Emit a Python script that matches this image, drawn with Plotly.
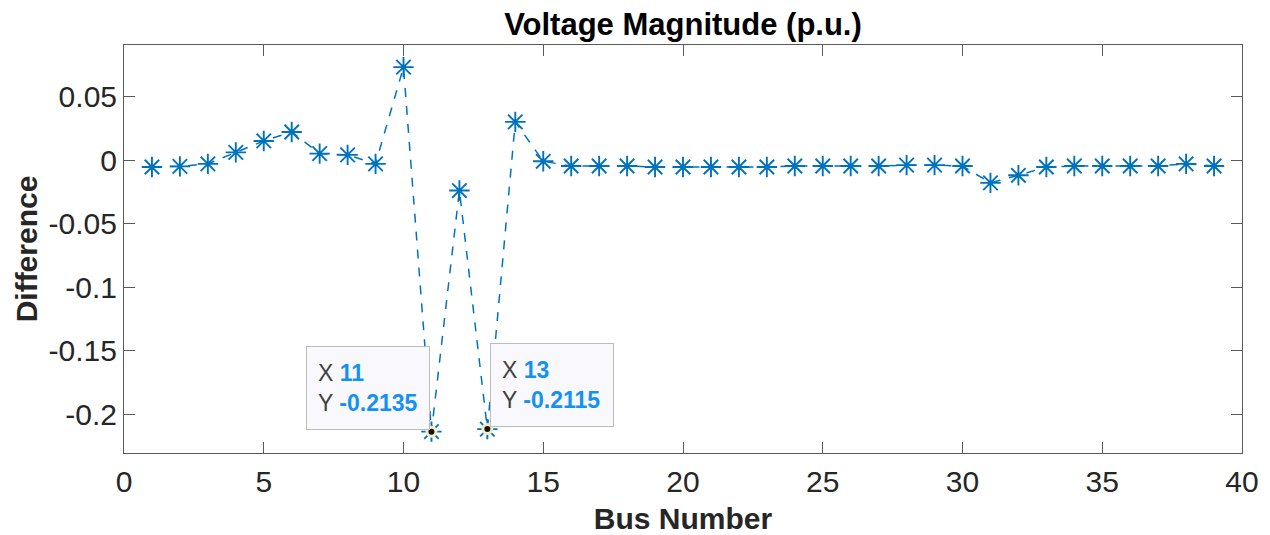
import plotly.graph_objects as go

bus = list(range(1, 40))
diff = [-0.0055, -0.005, -0.003, 0.006, 0.015, 0.022, 0.005, 0.004, -0.003, 0.073,
        -0.2135, -0.024, -0.2115, 0.030, -0.001, -0.0047, -0.0047, -0.0047, -0.0055, -0.0055,
        -0.0055, -0.0055, -0.0055, -0.0047, -0.0047, -0.0047, -0.0047, -0.004, -0.004, -0.0047,
        -0.018, -0.012, -0.0055, -0.0047, -0.0047, -0.0047, -0.0047, -0.003, -0.0047]

tip_x = [11, 13]
tip_y = [-0.2135, -0.2115]
tip_side = ["right", "left"]

ytick_vals = [0.05, 0, -0.05, -0.1, -0.15, -0.2]
ytick_text = ["0.05", "0", "-0.05", "-0.1", "-0.15", "-0.2"]
xtick_vals = [0, 5, 10, 15, 20, 25, 30, 35, 40]

blue = "#0072BD"
axcol = "#5a5a5a"
font = "Liberation Sans, Arial, sans-serif"

fig = go.Figure()
fig.add_trace(go.Scatter(
    x=bus, y=diff, mode="lines+markers",
    line=dict(color=blue, width=1.5, dash="dash"),
    marker=dict(symbol="asterisk", size=17, color=blue, line=dict(color=blue, width=1.9)),
    showlegend=False, hoverinfo="skip"))
fig.add_trace(go.Scatter(
    x=tip_x, y=tip_y, mode="markers",
    marker=dict(symbol="circle", size=9, color="#111111", line=dict(color="#F3EDC6", width=3)),
    showlegend=False, hoverinfo="skip"))

for xv, yv, side in zip(tip_x, tip_y, tip_side):
    txt = (f"X <span style='color:#1592F0'><b>{xv}</b></span><br>"
           f"Y <span style='color:#1592F0'><b>{yv}</b></span>")
    fig.add_annotation(
        x=xv, y=yv, xref="x", yref="y", text=txt, showarrow=False,
        xanchor="right" if side == "right" else "left", yanchor="bottom",
        xshift=-1 if side == "right" else 3, yshift=2,
        align="left", valign="middle", width=100, height=60, borderpad=11,
        bgcolor="#F8F8FD", bordercolor="#BDBDBD", borderwidth=1,
        font=dict(family=font, size=23, color="#404040"))

fig.update_layout(
    width=1270, height=535,
    margin=dict(l=124, r=28, t=45, b=82),
    paper_bgcolor="white", plot_bgcolor="white",
    title=dict(text="<b>Voltage Magnitude (p.u.)</b>", xref="paper", x=0.5, xanchor="center",
               y=1 - 24 / 535, yanchor="middle", automargin=False,
               font=dict(family=font, size=31, color="#000000")),
    font=dict(family=font, color="#262626"),
)
fig.update_xaxes(
    range=[0, 40], tickvals=xtick_vals, ticks="inside", ticklen=11, tickcolor=axcol,
    showline=True, linecolor=axcol, linewidth=1, mirror="ticks", showgrid=False, zeroline=False,
    automargin=False,
    tickfont=dict(family=font, size=30, color="#262626"), ticklabelstandoff=2,
    title=dict(text="<b>Bus Number</b>", font=dict(family=font, size=30, color="#262626"), standoff=10),
)
fig.update_yaxes(
    range=[-0.2303, 0.0904], tickvals=ytick_vals, ticktext=ytick_text, ticks="inside", ticklen=11,
    tickcolor=axcol, showline=True, linecolor=axcol, linewidth=1, mirror="ticks",
    showgrid=False, zeroline=False, automargin=False,
    tickfont=dict(family=font, size=30, color="#262626"),
    title=dict(text="<b>Difference</b>", font=dict(family=font, size=30, color="#262626"), standoff=2),
)

fig.write_html("out.html")
